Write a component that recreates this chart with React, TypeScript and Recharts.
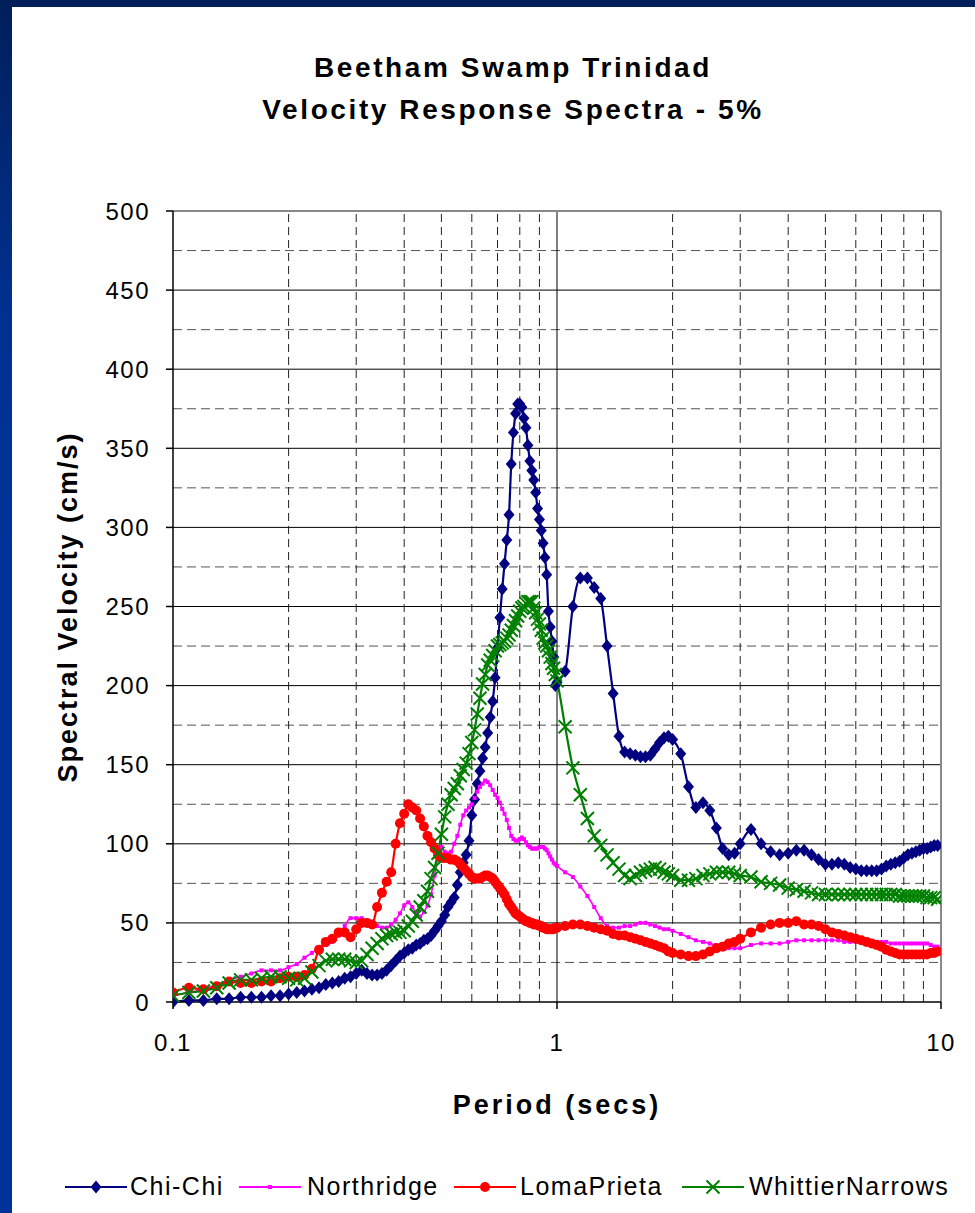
import { LineChart, Line, XAxis, YAxis, ReferenceLine } from "recharts";

// Period grid (secs) shared by all four records
const periods = [
  0.1, 0.11, 0.12, 0.13, 0.14, 0.15, 0.16, 0.17, 0.18, 0.19,
  0.2, 0.21, 0.22, 0.23, 0.24, 0.25, 0.26, 0.27, 0.28, 0.29,
  0.3, 0.31, 0.32, 0.33, 0.34, 0.35, 0.36, 0.37, 0.38, 0.39,
  0.4, 0.41, 0.42, 0.43, 0.44, 0.45, 0.46, 0.47, 0.48, 0.49,
  0.5, 0.51, 0.52, 0.53, 0.54, 0.55, 0.56, 0.57, 0.58, 0.59,
  0.6, 0.61, 0.62, 0.63, 0.64, 0.65, 0.66, 0.67, 0.68, 0.69,
  0.7, 0.71, 0.72, 0.73, 0.74, 0.75, 0.76, 0.77, 0.78, 0.79,
  0.8, 0.81, 0.82, 0.83, 0.84, 0.85, 0.86, 0.87, 0.88, 0.89,
  0.9, 0.91, 0.92, 0.93, 0.94, 0.95, 0.96, 0.97, 0.98, 0.99,
  1.0,
  1.05, 1.1, 1.15, 1.2, 1.25, 1.3, 1.35, 1.4, 1.45, 1.5,
  1.55, 1.6, 1.65, 1.7, 1.75, 1.8, 1.85, 1.9, 1.95, 2.0,
  2.1, 2.2, 2.3, 2.4, 2.5, 2.6, 2.7, 2.8, 2.9, 3.0,
  3.2, 3.4, 3.6, 3.8, 4.0, 4.2, 4.4, 4.6, 4.8, 5.0,
  5.2, 5.4, 5.6, 5.8, 6.0, 6.2, 6.4, 6.6, 6.8, 7.0,
  7.2, 7.4, 7.6, 7.8, 8.0, 8.2, 8.4, 8.6, 8.8, 9.0,
  9.2, 9.4, 9.6, 9.8,
];

// Spectral velocity (cm/s), 5% damping
const chiChi = [
  0, 1, 1, 2, 2, 3, 3, 3, 4, 4,
  5, 6, 7, 8, 9, 11, 12, 13, 15, 16,
  18, 20, 18, 17, 17, 18, 20, 23, 26, 29,
  31, 33, 34, 36, 37, 39, 40, 42, 45, 48,
  51, 55, 60, 63, 66, 74, 82, 88, 93, 102,
  118, 128, 138, 146, 154, 161, 170, 180, 190, 205,
  224, 243, 261, 277, 292, 308, 340, 360, 372, 378,
  378, 376, 369, 363, 352, 342, 336, 330, 322, 312,
  305, 298, 290, 281, 270, 247, 237, 228, 218, 200,
  202,
  209, 250, 268, 268, 262, 255, 225, 195, 168, 158,
  157, 156, 155, 155, 156, 160, 164, 167, 168, 166,
  157, 136, 123, 126, 121, 110, 97, 93, 94, 100,
  109, 100, 95, 93, 94, 96, 96, 93, 90, 87,
  87, 88, 87, 85, 84, 83, 83, 83, 83, 84,
  86, 87, 88, 89, 91, 93, 94, 95, 96, 97,
  97, 98, 99, 99,
];

const northridge = [
  4, 6, 8, 11, 14, 16, 18, 20, 20, 20,
  22, 24, 28, 31, 34, 36, 38, 42, 48, 53,
  53, 53, 51, 49, 48, 47, 47, 49, 52, 56,
  61, 63, 60, 56, 54, 57, 61, 68, 80, 92,
  98, 95, 94, 95, 100, 105, 112, 118, 121, 123,
  125, 129, 133, 136, 138, 140, 139, 137, 134, 131,
  129, 126, 122, 119, 115, 110, 105, 103, 102, 102,
  103, 104, 103, 101, 99, 98, 97, 97, 97, 97,
  98, 98, 98, 97, 96, 94, 92, 90, 88, 87,
  86,
  82, 79, 73, 67, 60, 53, 48, 47, 47, 48,
  48, 49, 50, 50, 49, 48, 47, 46, 46, 45,
  43, 41, 39, 38, 37, 36, 35, 34, 34, 34,
  36, 37, 37, 37, 38, 39, 39, 39, 39, 39,
  39, 39, 38, 38, 38, 38, 38, 38, 38, 38,
  38, 37, 37, 37, 37, 37, 37, 37, 37, 37,
  37, 36, 35, 35,
];

const lomaPrieta = [
  6, 9, 8, 10, 13, 12, 12, 13, 13, 15,
  16, 16, 17, 21, 33, 38, 40, 44, 44, 41,
  46, 50, 50, 49, 60, 69, 76, 82, 100, 113,
  119, 125, 123, 121, 116, 111, 105, 101, 97, 93,
  91, 91, 91, 90, 90, 89, 87, 85, 83, 81,
  79, 78, 78, 78, 79, 80, 80, 79, 78, 76,
  74, 72, 70, 68, 65, 62, 60, 58, 56, 55,
  54, 53, 52, 51, 51, 50, 50, 49, 49, 49,
  48, 48, 47, 47, 46, 46, 46, 46, 46, 47,
  47,
  48, 49, 49, 48, 47, 46, 45, 43, 42, 42,
  41, 40, 39, 38, 37, 36, 35, 34, 32, 31,
  30, 29, 29, 30, 32, 34, 35, 37, 38, 40,
  44, 47, 49, 50, 50, 51, 49, 49, 48, 46,
  44, 43, 42, 41, 40, 39, 38, 37, 36, 35,
  33, 32, 31, 30, 30, 30, 30, 30, 30, 30,
  30, 31, 31, 32,
];

const whittierNarrows = [
  4, 6, 7, 9, 12, 14, 14, 15, 16, 16,
  15, 14, 15, 19, 23, 26, 27, 27, 27, 26,
  25, 26, 30, 34, 37, 40, 42, 43, 44, 44,
  45, 48, 51, 55, 60, 64, 70, 78, 85, 94,
  106, 117, 125, 131, 135, 138, 143, 147, 151, 157,
  164, 172, 182, 192, 201, 207, 213, 216, 219, 222,
  225, 226, 227, 228, 230, 232, 235, 238, 241, 244,
  247, 249, 250, 252, 253, 253, 253, 249, 246, 242,
  239, 235, 230, 227, 225, 222, 218, 214, 211, 207,
  203,
  174, 148, 131, 116, 105, 99, 93, 88, 84, 80,
  78, 80, 82, 83, 84, 85, 84, 82, 81, 80,
  77, 77, 78, 80, 81, 82, 82, 82, 81, 80,
  79, 76, 75, 74, 72, 71, 70, 69, 68, 68,
  68, 68, 68, 68, 68, 68, 68, 68, 68, 68,
  68, 68, 68, 67, 67, 67, 67, 67, 67, 67,
  66, 66, 66, 65,
];

const periodTicks = [0.1, 1, 10];
const velocityTicks = [0, 50, 100, 150, 200, 250, 300, 350, 400, 450, 500];
const minorPeriods = [0.2, 0.3, 0.4, 0.5, 0.6, 0.7, 0.8, 0.9, 2, 3, 4, 5, 6, 7, 8, 9];
const majorVelocities = [50, 100, 150, 200, 250, 300, 350, 400, 450];
const minorVelocities = [25, 75, 125, 175, 225, 275, 325, 375, 425, 475];

const rows = periods.map((period, i) => ({
  period,
  chiChi: chiChi[i],
  northridge: northridge[i],
  lomaPrieta: lomaPrieta[i],
  whittierNarrows: whittierNarrows[i],
}));

const FONT = '"Liberation Sans", Arial, sans-serif';
const NAVY = "#000080";
const MAGENTA = "#FF00FF";
const RED = "#FF0000";
const GREEN = "#008000";

const diamondPath = (cx: number, cy: number) =>
  `M${cx},${cy - 6.5}L${cx + 5.5},${cy}L${cx},${cy + 6.5}L${cx - 5.5},${cy}Z`;

const crossPath = (cx: number, cy: number) =>
  `M${cx - 6.5},${cy - 6.5}L${cx + 6.5},${cy + 6.5}M${cx - 6.5},${cy + 6.5}L${cx + 6.5},${cy - 6.5}`;

const DiamondDot = (props: any) => {
  const { cx, cy, index } = props;
  if (cx == null || cy == null) return <g key={`cc-${index}`} />;
  return <path key={`cc-${index}`} d={diamondPath(cx, cy)} fill={NAVY} />;
};

const SquareDot = (props: any) => {
  const { cx, cy, index } = props;
  if (cx == null || cy == null) return <g key={`nr-${index}`} />;
  return <rect key={`nr-${index}`} x={cx - 2} y={cy - 2} width={4} height={4} fill={MAGENTA} />;
};

const CircleDot = (props: any) => {
  const { cx, cy, index } = props;
  if (cx == null || cy == null) return <g key={`lp-${index}`} />;
  return <circle key={`lp-${index}`} cx={cx} cy={cy} r={5} fill={RED} />;
};

const CrossDot = (props: any) => {
  const { cx, cy, index } = props;
  if (cx == null || cy == null) return <g key={`wn-${index}`} />;
  return (
    <path key={`wn-${index}`} d={crossPath(cx, cy)} stroke={GREEN} strokeWidth={2} fill="none" />
  );
};

const legendItems = [
  { name: "Chi-Chi", color: NAVY, lineX: 65, textX: 130, marker: "diamond" },
  { name: "Northridge", color: MAGENTA, lineX: 239, textX: 307, marker: "square" },
  { name: "LomaPrieta", color: RED, lineX: 454, textX: 520, marker: "circle" },
  { name: "WhittierNarrows", color: GREEN, lineX: 682, textX: 749, marker: "cross" },
];

function LegendMarker({ marker, color }: { marker: string; color: string }) {
  const cx = 31;
  const cy = 10;
  return (
    <svg width={62} height={20} style={{ position: "absolute", left: 0, top: 0 }}>
      <line x1={0} y1={cy} x2={62} y2={cy} stroke={color} strokeWidth={2} />
      {marker === "diamond" && <path d={diamondPath(cx, cy)} fill={color} />}
      {marker === "square" && <rect x={cx - 2} y={cy - 2} width={4} height={4} fill={color} />}
      {marker === "circle" && <circle cx={cx} cy={cy} r={5} fill={color} />}
      {marker === "cross" && <path d={crossPath(cx, cy)} stroke={color} strokeWidth={2} />}
    </svg>
  );
}

export default function App() {
  return (
    <div
      style={{
        position: "relative",
        width: 975,
        height: 1213,
        background: "linear-gradient(180deg, #001F5B 0%, #00308F 25%, #003399 45%, #003399 100%)",
        fontFamily: FONT,
        overflow: "hidden",
      }}
    >
      <style>{"body{margin:0}"}</style>
      <div
        style={{ position: "absolute", left: 0, top: 0, width: 975, height: 7, background: "#001F5B" }}
      />
      <div
        style={{ position: "absolute", left: 12, top: 7, width: 963, height: 1206, background: "#fff" }}
      >
        <LineChart
          width={963}
          height={1206}
          data={rows}
          margin={{ top: 204, right: 34, left: 0, bottom: 0 }}
        >
          <XAxis
            dataKey="period"
            type="number"
            scale="log"
            domain={[0.1, 10]}
            allowDataOverflow
            ticks={periodTicks}
            tickFormatter={(v: number) => String(v)}
            height={211}
            tickSize={7}
            tickMargin={25}
            axisLine={{ stroke: "#000", strokeWidth: 1.5 }}
            tickLine={{ stroke: "#000", strokeWidth: 1.5 }}
            tick={{ fill: "#000", fontSize: 24, fontFamily: FONT, letterSpacing: 1.5 }}
          />
          <YAxis
            type="number"
            domain={[0, 500]}
            ticks={velocityTicks}
            width={161}
            tickSize={7}
            tickMargin={16}
            axisLine={{ stroke: "#000", strokeWidth: 1.5 }}
            tickLine={{ stroke: "#000", strokeWidth: 1.5 }}
            tick={{ fill: "#000", fontSize: 24, fontFamily: FONT, letterSpacing: 1.5 }}
          />
          {minorVelocities.map((v) => (
            <ReferenceLine key={`hm-${v}`} y={v} stroke="#555" strokeDasharray="9 5" />
          ))}
          {majorVelocities.map((v) => (
            <ReferenceLine key={`hM-${v}`} y={v} stroke="#000" />
          ))}
          {minorPeriods.map((p) => (
            <ReferenceLine key={`vm-${p}`} x={p} stroke="#222" strokeDasharray="8 5" />
          ))}
          <ReferenceLine x={1} stroke="#000" />
          <ReferenceLine y={500} stroke="#888" strokeWidth={2} />
          <ReferenceLine x={10} stroke="#888" strokeWidth={2} />
          <Line
            dataKey="chiChi"
            type="monotone"
            stroke={NAVY}
            strokeWidth={2.2}
            dot={DiamondDot}
            isAnimationActive={false}
          />
          <Line
            dataKey="northridge"
            type="monotone"
            stroke={MAGENTA}
            strokeWidth={1.6}
            dot={SquareDot}
            isAnimationActive={false}
          />
          <Line
            dataKey="lomaPrieta"
            type="monotone"
            stroke={RED}
            strokeWidth={2.2}
            dot={CircleDot}
            isAnimationActive={false}
          />
          <Line
            dataKey="whittierNarrows"
            type="monotone"
            stroke={GREEN}
            strokeWidth={2.2}
            dot={CrossDot}
            isAnimationActive={false}
          />
        </LineChart>
      </div>

      <div
        style={{
          position: "absolute",
          left: 12,
          width: 1002,
          top: 47,
          textAlign: "center",
          fontSize: 28,
          fontWeight: "bold",
          letterSpacing: 2.6,
          lineHeight: "42px",
          color: "#000",
        }}
      >
        <div>Beetham Swamp Trinidad</div>
        <div>Velocity Response Spectra - 5%</div>
      </div>

      <div
        style={{
          position: "absolute",
          left: 68,
          top: 607,
          transform: "translate(-50%, -50%) rotate(-90deg)",
          whiteSpace: "nowrap",
          fontSize: 27,
          fontWeight: "bold",
          letterSpacing: 2,
          color: "#000",
        }}
      >
        Spectral Velocity (cm/s)
      </div>

      <div
        style={{
          position: "absolute",
          left: 557,
          top: 1105,
          transform: "translate(-50%, -50%)",
          whiteSpace: "nowrap",
          fontSize: 27,
          fontWeight: "bold",
          letterSpacing: 3,
          color: "#000",
        }}
      >
        Period (secs)
      </div>

      {legendItems.map((item) => (
        <div key={item.name}>
          <div style={{ position: "absolute", left: item.lineX, top: 1177, width: 62, height: 20 }}>
            <LegendMarker marker={item.marker} color={item.color} />
          </div>
          <div
            style={{
              position: "absolute",
              left: item.textX,
              top: 1172,
              fontSize: 25,
              letterSpacing: 1.5,
              lineHeight: "29px",
              whiteSpace: "nowrap",
              color: "#000",
            }}
          >
            {item.name}
          </div>
        </div>
      ))}
    </div>
  );
}
